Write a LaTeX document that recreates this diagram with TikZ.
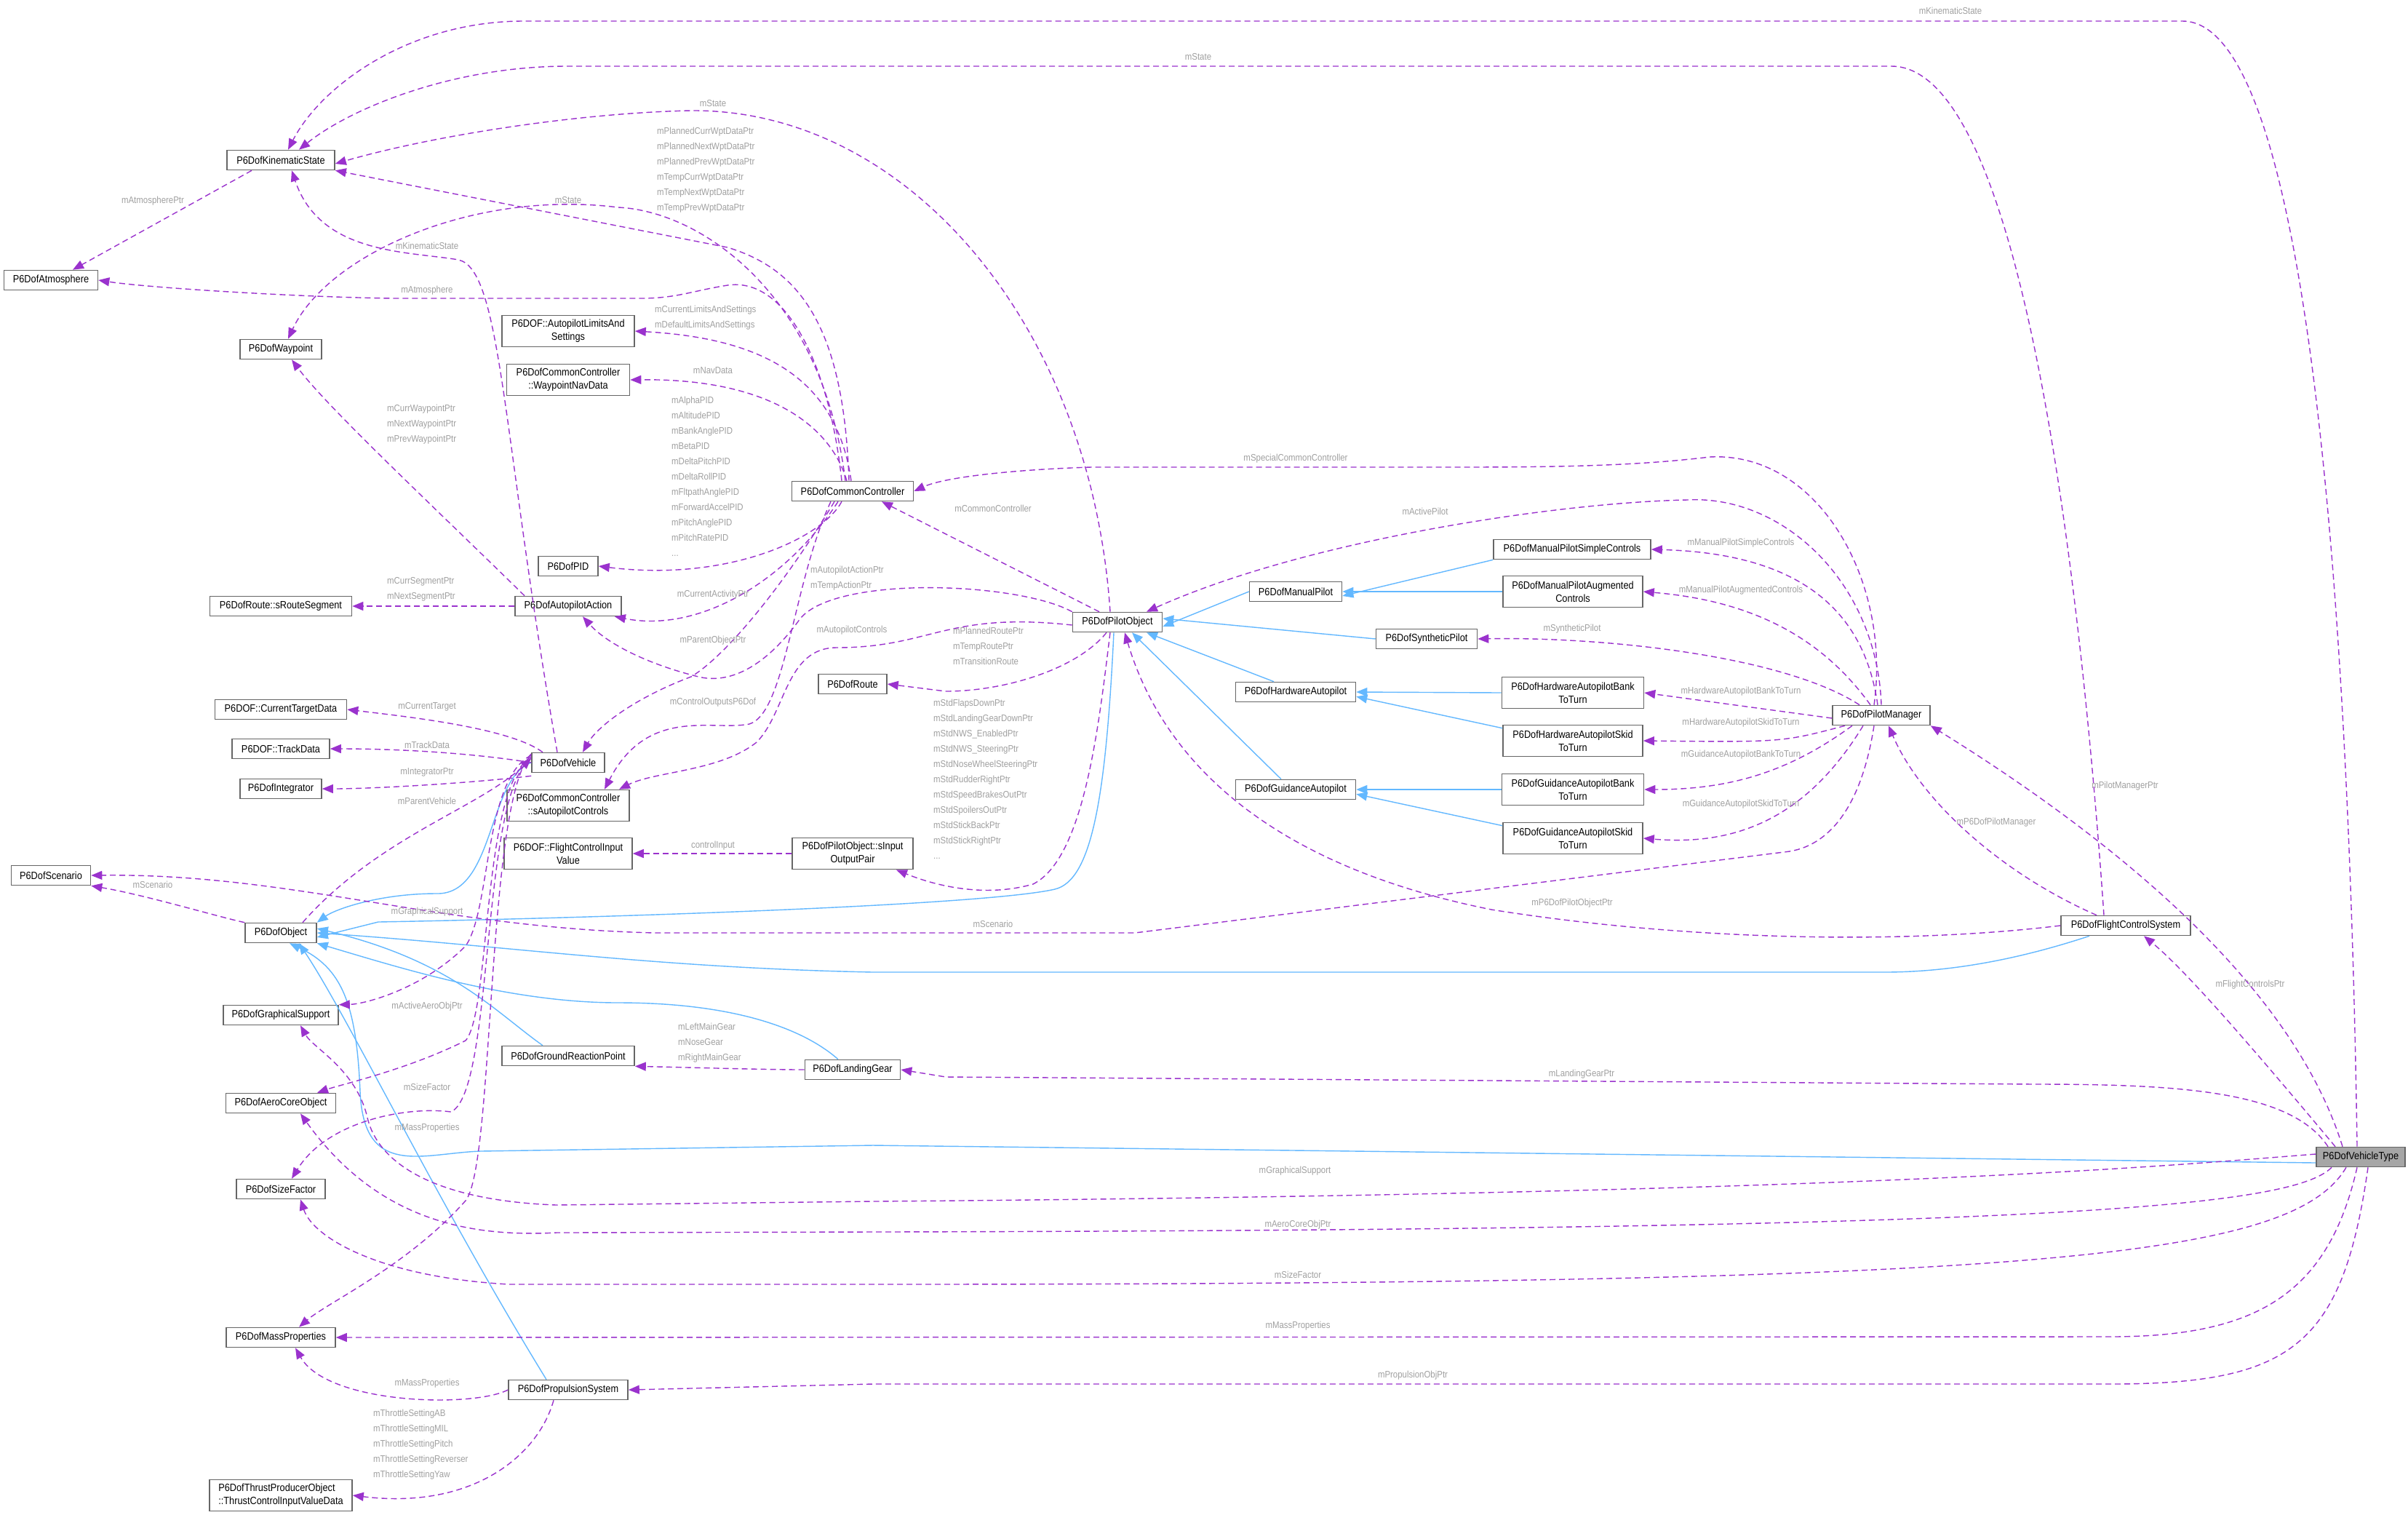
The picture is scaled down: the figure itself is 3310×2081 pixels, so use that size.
\documentclass[tikz,border=0pt]{standalone}
\usepackage{fontspec}
\setmainfont{Liberation Sans}[FakeStretch=0.88]
\usetikzlibrary{arrows.meta}
\definecolor{dpurple}{HTML}{9A32CD}
\definecolor{dblue}{HTML}{63B8FF}
\definecolor{lgray}{HTML}{A0A0A0}
\definecolor{bgray}{HTML}{666666}
\begin{document}
\begin{tikzpicture}[x=1pt,y=-1pt,
  box/.style={draw=bgray,line width=1.6pt,fill=white,minimum height=27,inner sep=3,align=center,font=\fontsize{14.5}{18}\selectfont},
  lbl/.style={text=lgray,font=\fontsize{13}{21}\selectfont,inner sep=0,align=left},
  dep/.style={draw=dpurple,line width=1.4pt,dash pattern=on 8pt off 5pt,-{Triangle[length=15,width=12]}},
  inh/.style={draw=dblue,line width=1.4pt,-{Triangle[length=15,width=12]}}]
\useasboundingbox[fill=white] (0,0) rectangle (3310,2081);
% nodes
\node[box,minimum width=148] (ks) at (386,220) {P6DofKinematicState};
\node[box,minimum width=129] (atm) at (70,385) {P6DofAtmosphere};
\node[box,minimum width=112] (wp) at (386,480) {P6DofWaypoint};
\node[box,minimum width=182,minimum height=43] (lim) at (781,455) {P6DOF::AutopilotLimitsAnd\\Settings};
\node[box,minimum width=169,minimum height=43] (nav) at (781,522) {P6DofCommonController\\::WaypointNavData};
\node[box,minimum width=167] (cc) at (1172,675) {P6DofCommonController};
\node[box,minimum width=82] (pid) at (781,778) {P6DofPID};
\node[box,minimum width=195] (seg) at (386,833) {P6DofRoute::sRouteSegment};
\node[box,minimum width=146] (aa) at (781,833) {P6DofAutopilotAction};
\node[box,minimum width=181] (ctd) at (386,975) {P6DOF::CurrentTargetData};
\node[box,minimum width=134] (td) at (386,1029) {P6DOF::TrackData};
\node[box,minimum width=112] (integ) at (386,1084) {P6DofIntegrator};
\node[box,minimum width=100] (veh) at (781,1048) {P6DofVehicle};
\node[box,minimum width=168,minimum height=43] (sac) at (781,1107) {P6DofCommonController\\::sAutopilotControls};
\node[box,minimum width=176,minimum height=43] (fciv) at (781,1173) {P6DOF::FlightControlInput\\Value};
\node[box,minimum width=166,minimum height=43] (siop) at (1172,1173) {P6DofPilotObject::sInput\\OutputPair};
\node[box,minimum width=109] (sc) at (70,1203) {P6DofScenario};
\node[box,minimum width=98] (obj) at (386,1282) {P6DofObject};
\node[box,minimum width=158] (gs) at (386,1395) {P6DofGraphicalSupport};
\node[box,minimum width=182] (grp) at (781,1451) {P6DofGroundReactionPoint};
\node[box,minimum width=131] (lg) at (1172,1470) {P6DofLandingGear};
\node[box,minimum width=151] (aco) at (386,1516) {P6DofAeroCoreObject};
\node[box,minimum width=122] (sf) at (386,1634) {P6DofSizeFactor};
\node[box,minimum width=150] (mp) at (386,1838) {P6DofMassProperties};
\node[box,minimum width=164] (prop) at (781,1910) {P6DofPropulsionSystem};
\node[box,minimum width=196,minimum height=43,align=left] (thrust) at (386,2055) {P6DofThrustProducerObject\\::ThrustControlInputValueData};
\node[box,minimum width=123] (po) at (1536,855) {P6DofPilotObject};
\node[box,minimum width=94] (route) at (1172,940) {P6DofRoute};
\node[box,minimum width=127] (man) at (1781,813) {P6DofManualPilot};
\node[box,minimum width=139] (syn) at (1961,878) {P6DofSyntheticPilot};
\node[box,minimum width=165] (hw) at (1781,951) {P6DofHardwareAutopilot};
\node[box,minimum width=165] (ga) at (1781,1085) {P6DofGuidanceAutopilot};
\node[box,minimum width=216] (msc) at (2161,755) {P6DofManualPilotSimpleControls};
\node[box,minimum width=192,minimum height=43] (mpa) at (2162,813) {P6DofManualPilotAugmented\\Controls};
\node[box,minimum width=195,minimum height=43] (hwb) at (2162,952) {P6DofHardwareAutopilotBank\\ToTurn};
\node[box,minimum width=192,minimum height=43] (hws) at (2162,1018) {P6DofHardwareAutopilotSkid\\ToTurn};
\node[box,minimum width=195,minimum height=43] (gb) at (2162,1085) {P6DofGuidanceAutopilotBank\\ToTurn};
\node[box,minimum width=192,minimum height=43] (gsk) at (2162,1152) {P6DofGuidanceAutopilotSkid\\ToTurn};
\node[box,minimum width=134] (pm) at (2586,983) {P6DofPilotManager};
\node[box,minimum width=178] (fcs) at (2922,1272) {P6DofFlightControlSystem};
\node[box,minimum width=122,fill=gray!70] (vt) at (3245,1590) {P6DofVehicleType};

% inheritance
\draw[inh] (msc.south west) -- ([yshift=-6]man.east);
\draw[inh] (mpa.west) -- (man.east);
\draw[inh] (man.west) -- ([yshift=-6]po.east);
\draw[inh] (syn.west) -- ([yshift=5]po.east);
\draw[inh] ([xshift=-30]hw.north) -- ([xshift=40]po.south);
\draw[inh] ([xshift=-20]ga.north) -- ([xshift=20]po.south);
\draw[inh] (hwb.west) -- (hw.east);
\draw[inh] ([yshift=-5]hws.north west) -- ([yshift=8]hw.east |- hw.south);
\draw[inh] (gb.west) -- (ga.east);
\draw[inh] ([yshift=-5]gsk.north west) -- ([yshift=8]ga.east |- ga.south);
\draw[inh] (veh.west) .. controls (670,1070) and (680,1230) .. (600,1228) .. controls (520,1228) and (460,1250) .. (obj.north east);
\draw[inh] ([xshift=-5]po.south) .. controls (1520,1100) and (1500,1210) .. (1450,1222) .. controls (1350,1245) and (800,1262) .. (520,1267) -- ([yshift=-6]obj.east);
\draw[inh] ([xshift=-50]fcs.south) .. controls (2800,1310) and (2700,1336) .. (2590,1336) -- (1200,1336) .. controls (900,1330) and (700,1300) .. (obj.east);
\draw[inh] ([xshift=-35]grp.north) .. controls (680,1390) and (620,1320) .. ([yshift=6]obj.east);
\draw[inh] ([xshift=-20]lg.north) .. controls (1100,1410) and (1000,1378) .. (850,1378) .. controls (700,1378) and (550,1330) .. (obj.south east);
\draw[inh] ([xshift=-30]prop.north) .. controls (600,1650) and (480,1400) .. ([xshift=25]obj.south);
\draw[inh] ([yshift=-8]vt.west) -- (1200,1574) -- (660,1582) .. controls (580,1585) and (500,1620) .. (495,1500) .. controls (490,1380) and (470,1330) .. ([xshift=12]obj.south);

% dependencies
\draw[dep] ([xshift=-5]vt.north) .. controls (3230,900) and (3180,29) .. (3000,29) -- (720,29) .. controls (560,29) and (440,120) .. ([xshift=10]ks.north);
\draw[dep] ([xshift=-30]fcs.north) .. controls (2860,800) and (2780,91) .. (2600,91) -- (780,91) .. controls (620,91) and (480,150) .. ([xshift=25]ks.north);
\draw[dep] ([xshift=-10]po.north) .. controls (1500,450) and (1250,150) .. (950,152) .. controls (800,155) and (600,185) .. ([yshift=-5]ks.east);
\draw[dep] ([xshift=-5]cc.north) .. controls (1160,450) and (1100,370) .. (1000,340) -- (ks.south east);
\draw[dep] ([xshift=-15]veh.north) .. controls (690,600) and (690,370) .. (630,357) .. controls (560,345) and (440,350) .. ([xshift=15]ks.south);
\draw[dep] ([xshift=-40]ks.south) -- ([xshift=30]atm.north);
\draw[dep] ([xshift=-10]cc.north) .. controls (1130,400) and (960,290) .. (850,285) .. controls (650,260) and (450,350) .. ([xshift=10]wp.north);
\draw[dep] ([xshift=-60]aa.north) .. controls (600,700) and (450,560) .. ([xshift=15]wp.south);
\draw[dep] (aa.west) -- (seg.east);
\draw[dep] ([xshift=-15]cc.north) .. controls (1140,500) and (1080,380) .. (1000,392) .. controls (950,400) and (930,410) .. (880,410) -- (540,410) .. controls (400,408) and (200,395) .. (atm.east);
\draw[dep] ([xshift=-2]cc.north) .. controls (1150,520) and (1050,465) .. (lim.east);
\draw[dep] ([xshift=-8]cc.north) .. controls (1140,580) and (1050,520) .. (nav.east);
\draw[dep] ([xshift=-15]cc.south) .. controls (1130,740) and (1000,800) .. (pid.east);
\draw[dep] ([xshift=-20]cc.south) .. controls (1080,800) and (960,870) .. ([xshift=-10]aa.south east);
\draw[dep] (po.north west) .. controls (1400,800) and (1150,790) .. (1100,850) .. controls (1050,920) and (1000,940) .. (960,930) .. controls (880,910) and (830,880) .. ([xshift=20]aa.south);
\draw[dep] ([xshift=-25]cc.south) .. controls (1080,800) and (1000,900) .. (950,930) .. controls (870,960) and (820,1000) .. ([xshift=20]veh.north);
\draw[dep] ([yshift=-4]po.west) .. controls (1300,840) and (1280,890) .. (1150,890) .. controls (1080,890) and (1080,980) .. (1040,1020) .. controls (990,1060) and (900,1060) .. ([xshift=70]sac.north);
\draw[dep] ([xshift=-30]cc.south) .. controls (1090,800) and (1080,980) .. (1030,995) .. controls (980,1005) and (890,970) .. ([xshift=50]sac.north);
\draw[dep] ([xshift=-25]po.north) -- ([xshift=40]cc.south);
\draw[dep] ([xshift=-15]po.south) .. controls (1480,920) and (1380,950) .. (1300,950) -- (route.east);
\draw[dep] ([xshift=-10]po.south) .. controls (1510,1000) and (1490,1180) .. (1420,1215) .. controls (1350,1235) and (1280,1215) .. ([xshift=60]siop.south);
\draw[dep] (siop.west) -- (fciv.east);
\draw[dep] ([xshift=-35]veh.north) .. controls (700,1000) and (560,985) .. (ctd.east);
\draw[dep] (veh.west) .. controls (650,1035) and (550,1029) .. (td.east);
\draw[dep] ([yshift=-4]veh.south west) .. controls (660,1075) and (520,1084) .. (integ.east);
\draw[dep] ([xshift=30]obj.north) .. controls (520,1150) and (660,1110) .. ([yshift=6]veh.west);
\draw[dep] (obj.north west) .. controls (300,1260) and (200,1230) .. (sc.south east);
\draw[dep] ([xshift=-10]pm.south) .. controls (2560,1100) and (2520,1160) .. (2460,1170) -- (1560,1282) -- (900,1282) .. controls (600,1275) and (400,1200) .. (sc.east);
\draw[dep] ([yshift=10]veh.west) .. controls (665,1070) and (675,1250) .. (640,1300) .. controls (580,1360) and (500,1380) .. (gs.north east);
\draw[dep] ([yshift=8]veh.west) .. controls (662,1080) and (675,1390) .. (640,1430) .. controls (560,1470) and (470,1490) .. ([xshift=50]aco.north);
\draw[dep] ([yshift=6]veh.west) .. controls (660,1090) and (680,1500) .. (620,1528) .. controls (560,1520) and (450,1540) .. ([xshift=15]sf.north);
\draw[dep] ([yshift=12]veh.west) .. controls (668,1100) and (680,1600) .. (640,1650) .. controls (560,1740) and (450,1790) .. ([xshift=25]mp.north);
\draw[dep] (lg.west) .. controls (1050,1470) and (950,1467) .. (grp.south east);
\draw[dep] (prop.west) .. controls (650,1935) and (450,1930) .. ([xshift=20]mp.south);
\draw[dep] ([xshift=-20]prop.south) .. controls (740,2000) and (650,2075) .. (thrust.east);
\draw[dep] ([xshift=-45]vt.north) .. controls (3150,1500) and (3000,1490) .. (2800,1490) -- (1300,1480) -- (lg.east);
\draw[dep] ([yshift=4]vt.west) .. controls (3000,1600) and (2600,1640) .. (1200,1651) -- (765,1656) .. controls (600,1650) and (520,1600) .. (505,1536) .. controls (490,1470) and (430,1440) .. ([xshift=27]gs.south);
\draw[dep] ([xshift=-40]vt.south) .. controls (3150,1660) and (2800,1690) .. (1200,1693) -- (765,1694) .. controls (650,1700) and (520,1680) .. ([xshift=27]aco.south);
\draw[dep] ([xshift=-20]vt.south) .. controls (3150,1730) and (2800,1765) .. (1200,1765) -- (700,1765) .. controls (520,1755) and (430,1700) .. ([xshift=27]sf.south);
\draw[dep] ([xshift=-5]vt.south) .. controls (3200,1780) and (3100,1837) .. (2900,1837) -- (mp.east);
\draw[dep] ([xshift=10]vt.south) .. controls (3220,1850) and (3150,1902) .. (2900,1902) -- (1200,1902) -- (prop.east);
\draw[dep] ([xshift=-25]vt.north) .. controls (3150,1350) and (2900,1150) .. (pm.south east);
\draw[dep] ([xshift=-35]vt.north) .. controls (3080,1420) and (3000,1330) .. ([xshift=25]fcs.south);
\draw[dep] ([xshift=-40]fcs.north) .. controls (2750,1200) and (2640,1100) .. ([xshift=10]pm.south);
\draw[dep] (fcs.west) .. controls (2600,1300) and (2300,1290) .. (2050,1250) .. controls (1750,1190) and (1600,1050) .. ([xshift=10]po.south);
\draw[dep] ([xshift=-10]pm.north) .. controls (2600,800) and (2500,620) .. (2350,628) .. controls (2250,640) and (2150,642) .. (2000,642) -- (1500,642) .. controls (1400,645) and (1300,655) .. (cc.east);
\draw[dep] (pm.north) .. controls (2580,800) and (2450,680) .. (2320,687) .. controls (2150,690) and (1800,740) .. ([xshift=40]po.north);
\draw[dep] ([xshift=-5]pm.north) .. controls (2560,820) and (2450,760) .. (msc.east);
\draw[dep] ([xshift=-15]pm.north) .. controls (2500,870) and (2400,825) .. (mpa.east);
\draw[dep] ([xshift=-30]pm.north) .. controls (2450,900) and (2200,875) .. (syn.east);
\draw[dep] ([yshift=-4]pm.west) -- (hwb.east);
\draw[dep] ([xshift=-50]pm.south) .. controls (2450,1020) .. (hws.east);
\draw[dep] ([xshift=-40]pm.south) .. controls (2460,1060) and (2380,1085) .. (gb.east);
\draw[dep] ([xshift=-25]pm.south) .. controls (2480,1130) and (2380,1162) .. (gsk.east);

% labels
\node[lbl] at (2681,15) {mKinematicState};
\node[lbl] at (1647,78) {mState};
\node[lbl] at (980,142) {mState};
\node[lbl,anchor=north west] at (903,175) {mPlannedCurrWptDataPtr\\mPlannedNextWptDataPtr\\mPlannedPrevWptDataPtr\\mTempCurrWptDataPtr\\mTempNextWptDataPtr\\mTempPrevWptDataPtr};
\node[lbl] at (781,275) {mState};
\node[lbl] at (210,276) {mAtmospherePtr};
\node[lbl] at (587,338) {mKinematicState};
\node[lbl] at (587,399) {mAtmosphere};
\node[lbl,anchor=north west] at (900,420) {mCurrentLimitsAndSettings\\mDefaultLimitsAndSettings};
\node[lbl] at (980,509) {mNavData};
\node[lbl,anchor=north west] at (923,545) {mAlphaPID\\mAltitudePID\\mBankAnglePID\\mBetaPID\\mDeltaPitchPID\\mDeltaRollPID\\mFltpathAnglePID\\mForwardAccelPID\\mPitchAnglePID\\mPitchRatePID\\...};
\node[lbl,anchor=north west] at (532,556) {mCurrWaypointPtr\\mNextWaypointPtr\\mPrevWaypointPtr};
\node[lbl] at (1781,630) {mSpecialCommonController};
\node[lbl] at (1365,699) {mCommonController};
\node[lbl] at (1959,703) {mActivePilot};
\node[lbl,anchor=north west] at (1114,778) {mAutopilotActionPtr\\mTempActionPtr};
\node[lbl,anchor=north west] at (532,793) {mCurrSegmentPtr\\mNextSegmentPtr};
\node[lbl] at (980,817) {mCurrentActivityPtr};
\node[lbl] at (1171,866) {mAutopilotControls};
\node[lbl,anchor=north west] at (1310,862) {mPlannedRoutePtr\\mTempRoutePtr\\mTransitionRoute};
\node[lbl] at (980,880) {mParentObjectPtr};
\node[lbl,anchor=north west] at (1283,961) {mStdFlapsDownPtr\\mStdLandingGearDownPtr\\mStdNWS\_EnabledPtr\\mStdNWS\_SteeringPtr\\mStdNoseWheelSteeringPtr\\mStdRudderRightPtr\\mStdSpeedBrakesOutPtr\\mStdSpoilersOutPtr\\mStdStickBackPtr\\mStdStickRightPtr\\...};
\node[lbl] at (980,965) {mControlOutputsP6Dof};
\node[lbl] at (587,971) {mCurrentTarget};
\node[lbl] at (587,1024) {mTrackData};
\node[lbl] at (587,1061) {mIntegratorPtr};
\node[lbl] at (587,1101) {mParentVehicle};
\node[lbl] at (980,1162) {controlInput};
\node[lbl] at (210,1216) {mScenario};
\node[lbl] at (587,1253) {mGraphicalSupport};
\node[lbl] at (1365,1270) {mScenario};
\node[lbl] at (587,1383) {mActiveAeroObjPtr};
\node[lbl,anchor=north west] at (932,1406) {mLeftMainGear\\mNoseGear\\mRightMainGear};
\node[lbl] at (587,1494) {mSizeFactor};
\node[lbl] at (587,1550) {mMassProperties};
\node[lbl] at (2174,1476) {mLandingGearPtr};
\node[lbl] at (1780,1609) {mGraphicalSupport};
\node[lbl] at (1784,1683) {mAeroCoreObjPtr};
\node[lbl] at (1784,1752) {mSizeFactor};
\node[lbl] at (1784,1822) {mMassProperties};
\node[lbl] at (1942,1890) {mPropulsionObjPtr};
\node[lbl] at (587,1901) {mMassProperties};
\node[lbl,anchor=north west] at (513,1937) {mThrottleSettingAB\\mThrottleSettingMIL\\mThrottleSettingPitch\\mThrottleSettingReverser\\mThrottleSettingYaw};
\node[lbl] at (2393,746) {mManualPilotSimpleControls};
\node[lbl] at (2393,811) {mManualPilotAugmentedControls};
\node[lbl] at (2161,864) {mSyntheticPilot};
\node[lbl] at (2393,950) {mHardwareAutopilotBankToTurn};
\node[lbl] at (2393,993) {mHardwareAutopilotSkidToTurn};
\node[lbl] at (2393,1037) {mGuidanceAutopilotBankToTurn};
\node[lbl] at (2393,1105) {mGuidanceAutopilotSkidToTurn};
\node[lbl] at (2921,1080) {mPilotManagerPtr};
\node[lbl] at (2744,1130) {mP6DofPilotManager};
\node[lbl] at (2161,1241) {mP6DofPilotObjectPtr};
\node[lbl] at (3093,1353) {mFlightControlsPtr};
\end{tikzpicture}
\end{document}
